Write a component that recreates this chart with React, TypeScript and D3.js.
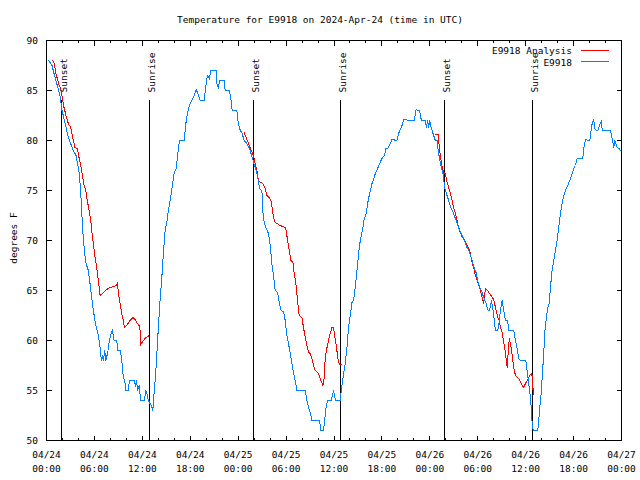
import React from "react";
import * as d3 from "d3";

// hours since 2024-04-24 00:00 UTC, temperature in degrees F
const observed: [number, number][] = [
  [0.23, 88.07], [0.69, 87.5], [0.94, 86.7], [1.28, 85.7], [1.69, 84.5], [1.94, 83], [2.19, 82.2],
  [2.73, 80.3], [3.36, 79], [3.7, 78.5], [4.11, 76.7], [4.29, 74.7], [4.54, 71], [4.66, 69.7],
  [4.91, 67.8], [5.24, 67], [5.45, 65.7], [5.66, 64.3], [5.87, 63], [6.17, 61.5], [6.49, 60.5],
  [6.71, 59.3], [6.87, 58], [6.99, 58.5], [7.12, 58], [7.29, 59], [7.42, 58], [7.67, 58.8],
  [7.87, 60], [8.08, 60.7], [8.25, 61], [8.46, 60], [8.8, 60], [8.92, 59], [9.25, 59], [9.42, 58],
  [9.63, 56.3], [9.8, 56], [9.93, 55], [10.25, 55], [10.38, 56], [10.97, 56], [11.13, 55.5],
  [11.3, 56], [11.38, 55], [11.59, 55.5], [11.81, 54], [12.26, 54], [12.43, 55], [12.63, 54.5],
  [12.76, 54], [12.97, 53.7], [13.13, 53.5], [13.31, 53], [13.47, 54.7], [13.6, 56], [13.72, 57.3],
  [13.89, 59.7], [14.06, 62], [14.22, 64], [14.44, 66.3], [14.64, 68.7], [14.85, 71], [15.06, 71.8],
  [15.26, 73], [15.48, 74], [15.73, 75.3], [15.98, 76.7], [16.23, 77.2], [16.39, 78.3], [16.64, 80],
  [17.23, 80], [17.45, 81.7], [17.65, 82.7], [17.9, 83.5], [18.2, 84], [18.49, 84.5], [18.74, 85.07],
  [18.9, 84.8], [19.24, 84], [19.74, 84], [19.99, 85.7], [20.15, 86.5], [20.4, 86.2], [20.58, 87],
  [21.24, 87], [21.33, 85.7], [21.53, 85.2], [21.66, 86], [22.25, 86], [22.37, 85], [22.91, 85],
  [23.09, 84.2], [23.25, 83], [23.84, 83], [23.96, 82], [24.16, 81.2], [24.5, 80.7], [24.75, 80],
  [25.09, 79.7], [25.5, 79], [25.79, 78.2], [26.13, 77.3], [26.42, 76.5], [26.67, 75.2], [26.97, 75],
  [27.1, 72.8], [27.26, 71.8], [27.51, 71.2], [27.8, 70.7], [28.01, 69.5], [28.22, 67.7],
  [28.42, 66.5], [28.64, 65], [28.93, 64.8], [29.14, 63.8], [29.39, 63], [29.68, 62.9], [29.89, 62],
  [30.1, 60.5], [30.3, 59.7], [30.52, 58.7], [30.73, 57.7], [30.93, 56.8], [31.14, 56], [31.36, 55],
  [32.4, 55], [32.61, 54], [32.81, 53.3], [33.02, 52.8], [33.24, 52], [34.19, 52], [34.36, 51],
  [34.69, 51], [34.82, 52], [34.99, 53.2], [35.19, 54], [35.66, 54], [35.94, 55], [36.2, 54],
  [36.78, 54], [36.87, 54.7], [37.03, 55.7], [37.2, 56.7], [37.41, 57.7], [37.62, 59.3], [37.82, 61.3],
  [38.04, 62.5], [38.25, 63.8], [38.45, 64], [38.66, 65.3], [38.88, 67], [39.08, 68.7], [39.29, 70],
  [39.63, 71.3], [39.79, 72.2], [40.04, 72.7], [40.21, 73.7], [40.46, 74.7], [40.76, 75.7],
  [40.96, 76.1], [41.17, 76.7], [41.46, 77.2], [41.71, 77.7], [42.01, 78.2], [42.3, 78.5],
  [42.51, 79.2], [42.71, 79.2], [43.05, 79.7], [43.26, 80.1], [43.89, 80], [44.09, 80.7],
  [44.3, 81.1], [44.52, 81.5], [44.72, 82.07], [46.06, 82], [46.27, 83.07], [46.72, 83], [46.94, 82],
  [47.44, 82], [47.56, 81.3], [47.73, 82], [47.85, 81.3], [47.98, 82], [48.15, 81.3], [48.28, 81],
  [48.48, 80.5], [48.69, 80], [48.9, 80], [49.1, 78.7], [49.32, 77.8], [49.53, 77], [49.65, 76.7],
  [49.86, 75.3], [50.07, 74.7], [50.36, 74], [50.66, 73.2], [50.98, 72.7], [51.41, 71.7], [51.74, 71],
  [52.04, 70.5], [52.33, 70], [52.66, 69.3], [52.99, 68.8], [53.29, 68], [53.58, 67.2], [53.83, 66.7],
  [53.99, 66], [54.24, 65.3], [54.54, 64.8], [54.74, 64.3], [55.04, 63.7], [55.29, 63], [55.49, 63],
  [55.71, 64], [55.92, 63], [56.08, 62], [56.21, 61], [56.5, 61], [56.71, 62], [56.84, 63],
  [57.05, 64], [57.25, 63], [57.46, 62], [57.75, 62], [57.88, 61], [58.5, 61], [58.72, 60],
  [58.93, 59.2], [59.13, 58.2], [59.34, 58], [60.01, 58], [60.18, 57], [60.38, 55.7], [60.6, 54.3],
  [60.72, 53], [60.81, 51.7], [60.94, 51], [61.51, 51], [61.64, 52], [61.76, 53.3], [61.94, 54.7],
  [62.1, 56.7], [62.26, 58.7], [62.44, 61.3], [62.6, 62.3], [62.76, 63.3], [62.94, 63.7], [63.1, 65.3],
  [63.31, 67], [63.52, 68], [63.73, 69], [63.94, 70], [64.14, 71.3], [64.36, 72.7], [64.57, 73.7],
  [64.77, 74.5], [64.98, 75], [65.27, 75.5], [65.52, 76], [65.82, 76.7], [66.02, 77.2], [66.24, 77.5],
  [66.45, 78.2], [67.15, 78.2], [67.28, 79.2], [67.49, 80.07], [68.03, 80], [68.2, 81.1],
  [68.33, 81.7], [68.53, 82.07], [68.65, 81.2], [68.83, 81], [69.03, 81], [69.24, 81.5], [69.49, 82],
  [69.58, 81], [70.62, 81], [70.83, 80.2], [71.03, 79.3], [71.16, 80], [71.46, 79.3], [71.71, 79.2],
  [71.88, 79],
];

const analysisNight1: [number, number][] = [
  [0.73, 88.07], [0.98, 87.7], [1.15, 86.8], [1.35, 86.2], [1.6, 85.5], [1.78, 85.2], [1.98, 84.3],
  [2.19, 83.3], [2.44, 82.5], [2.73, 81.7], [3.03, 81.3], [3.28, 80.3], [3.57, 79.3], [3.86, 79.2],
  [4.07, 78.3], [4.29, 77.5], [4.49, 76.5], [4.7, 75.5], [4.91, 75], [5.11, 74], [5.33, 73],
  [5.54, 72], [5.66, 71], [5.87, 69.7], [6.08, 68.3], [6.29, 67.3], [6.49, 66], [6.71, 64.5],
  [7.12, 64.8], [7.54, 65.1], [7.96, 65.3], [8.46, 65.4], [8.71, 65.5], [8.87, 65.7], [9.0, 64.8],
  [9.21, 63.7], [9.42, 62.7], [9.63, 62], [9.75, 61.3], [10.13, 61.6], [10.46, 62], [10.8, 62.3],
  [11.09, 62.1], [11.3, 61.8], [11.59, 61.5], [11.72, 61], [11.81, 59.6], [12.13, 60], [12.47, 60.3],
  [12.88, 60.5],
];

const analysisNight2: [number, number][] = [
  [24.75, 80.8], [25.0, 80.3], [25.29, 79.7], [25.63, 79], [25.92, 78.5], [26.13, 77.7], [26.34, 77],
  [26.54, 76], [26.85, 75.8], [27.1, 75.7], [27.38, 75.2], [27.6, 74.5], [27.89, 74.3], [28.1, 74],
  [28.3, 73], [28.42, 72.3], [28.64, 71.8], [28.85, 71.7], [29.26, 71.5], [29.89, 71.3], [30.02, 71],
  [30.18, 70], [30.39, 69], [30.61, 68], [30.86, 67.8], [31.02, 66.7], [31.23, 65.7], [31.43, 64],
  [31.64, 62.5], [31.98, 62.3], [32.18, 61.3], [32.4, 60.3], [32.61, 59.5], [32.81, 58.8],
  [33.02, 58.7], [33.24, 58.2], [33.44, 57.5], [33.65, 57], [33.94, 56.8], [34.15, 56.5], [34.36, 56],
  [34.62, 55.5], [34.78, 56.3], [34.87, 57.8], [35.03, 59], [35.19, 59.5], [35.37, 60.2],
  [35.53, 60.7], [35.74, 61.3], [35.94, 61.3], [36.07, 60.5], [36.25, 59.7], [36.41, 58.7],
  [36.57, 57.8], [36.7, 57.6], [36.95, 57.6],
];

const analysisNight3: [number, number][] = [
  [48.69, 80.6], [49.03, 80.6], [49.1, 80], [49.23, 79], [49.4, 78], [49.57, 77.3], [49.73, 76.8],
  [49.94, 76.7], [50.16, 75.8], [50.36, 75.3], [50.57, 74.7], [50.78, 74], [50.98, 73.3], [51.2, 72.7],
  [51.41, 72], [51.61, 71.3], [51.82, 70.8], [52.07, 70.3], [52.33, 70.07], [52.66, 69.5], [52.99, 69],
  [53.29, 67.8], [53.49, 67.3], [53.7, 66.5], [53.92, 66], [54.12, 65.5], [54.33, 65], [54.54, 64.3],
  [54.74, 63.7], [54.87, 64.7], [54.99, 65.2], [55.25, 65], [55.46, 64.7], [55.67, 64.5],
  [55.92, 64.2], [56.08, 63.8], [56.3, 63], [56.5, 62.3], [56.71, 62], [56.84, 61.3], [57.05, 60.8],
  [57.25, 59.8], [57.38, 59.3], [57.55, 58.2], [57.68, 57.3], [57.75, 58], [57.84, 59.3], [57.96, 60.2],
  [58.09, 59.7], [58.21, 59.2], [58.34, 58.3], [58.5, 57.3], [58.72, 56.5], [59.01, 56.3],
  [59.22, 56.1], [59.43, 55.7], [59.59, 55.5], [59.76, 55.3], [59.97, 55.7], [60.18, 56], [60.38, 56.3],
  [60.6, 56.6], [60.76, 56.7], [60.88, 56], [60.94, 54.6], [61.01, 55.2],
];

const sunEvents: [number, string][] = [
  [1.88, "Sunset"], [12.88, "Sunrise"], [25.92, "Sunset"],
  [36.78, "Sunrise"], [49.86, "Sunset"], [60.89, "Sunrise"],
];

const yTickValues = [50, 55, 60, 65, 70, 75, 80, 85, 90];

const START = Date.UTC(2024, 3, 24);
const END = Date.UTC(2024, 3, 27);
const toDate = (h: number) => new Date(START + h * 3600e3);

const FONT = "'DejaVu Sans Mono', monospace";
const RED = "#ff0000";
const BLUE = "#0080ff";

export default function App() {
  const left = 46.5, right = 621.5, top = 40.5, bottom = 440.5;

  const x = d3.scaleUtc().domain([new Date(START), new Date(END)]).range([left, right]);
  const y = d3.scaleLinear().domain([50, 90]).range([bottom, top]);

  const line = d3
    .line<[number, number]>()
    .x((d) => x(toDate(d[0])))
    .y((d) => y(d[1]));

  const majorTicks = x.ticks(d3.utcHour.every(6)!);
  const minorTicks = x.ticks(d3.utcHour.every(2)!);
  const fmtDay = d3.utcFormat("%m/%d");
  const fmtTime = d3.utcFormat("%H:%M");

  return (
    <div style={{ position: "absolute", left: 0, top: 0 }}>
      <svg width={640} height={480} style={{ display: "block", background: "#fff" }} fontFamily={FONT} fontSize={9.5}>
        <text x={320} y={23} textAnchor="middle" fill="#000">
          Temperature for E9918 on 2024-Apr-24 (time in UTC)
        </text>

        {/* y axis label */}
        <text transform="translate(17,238) rotate(-90)" textAnchor="middle" fill="#000">
          degrees F
        </text>

        {/* ticks */}
        <g stroke="#000" strokeWidth={1} shapeRendering="crispEdges">
          {yTickValues.map((v) => (
            <g key={v}>
              <line x1={left} x2={left + 5} y1={y(v)} y2={y(v)} />
              <line x1={right} x2={right - 5} y1={y(v)} y2={y(v)} />
            </g>
          ))}
          {minorTicks.map((t, i) => (
            <g key={i}>
              <line x1={x(t)} x2={x(t)} y1={bottom} y2={bottom - 2.5} />
              <line x1={x(t)} x2={x(t)} y1={top} y2={top + 2.5} />
            </g>
          ))}
          {majorTicks.map((t, i) => (
            <g key={i}>
              <line x1={x(t)} x2={x(t)} y1={bottom} y2={bottom - 5} />
              <line x1={x(t)} x2={x(t)} y1={top} y2={top + 5} />
            </g>
          ))}
        </g>

        {yTickValues.map((v) => (
          <text key={v} x={38} y={y(v) + 3.5} textAnchor="end" fill="#000">
            {v}
          </text>
        ))}
        {majorTicks.map((t, i) => (
          <text key={i} x={x(t)} textAnchor="middle" fill="#000">
            <tspan x={x(t)} y={457.5}>{fmtDay(t)}</tspan>
            <tspan x={x(t)} y={472}>{fmtTime(t)}</tspan>
          </text>
        ))}

        {/* sunrise / sunset markers */}
        {sunEvents.map(([h, label], i) => {
          const xe = Math.round(x(toDate(h)) - 0.5) + 0.5;
          return (
            <g key={i}>
              <line x1={xe} x2={xe} y1={y(84.1)} y2={bottom} stroke="#000" shapeRendering="crispEdges" />
              <text transform={`translate(${xe + 5.5},${y(84.8)}) rotate(-90)`} fill="#000">
                {label}
              </text>
            </g>
          );
        })}

        {/* data */}
        {[analysisNight1, analysisNight2, analysisNight3].map((seg, i) => (
          <path key={i} d={line(seg) ?? ""} fill="none" stroke={RED} strokeWidth={1} shapeRendering="crispEdges" />
        ))}
        <path d={line(observed) ?? ""} fill="none" stroke={BLUE} strokeWidth={1} shapeRendering="crispEdges" />

        {/* legend */}
        <text x={572} y={54} textAnchor="end" fill="#000">E9918 Analysis</text>
        <line x1={581} x2={609} y1={50.5} y2={50.5} stroke={RED} shapeRendering="crispEdges" />
        <text x={572} y={66} textAnchor="end" fill="#000">E9918</text>
        <line x1={581} x2={609} y1={61.5} y2={61.5} stroke={BLUE} shapeRendering="crispEdges" />

        {/* border */}
        <rect x={left} y={top} width={right - left} height={bottom - top} fill="none" stroke="#000" shapeRendering="crispEdges" />
      </svg>
    </div>
  );
}
